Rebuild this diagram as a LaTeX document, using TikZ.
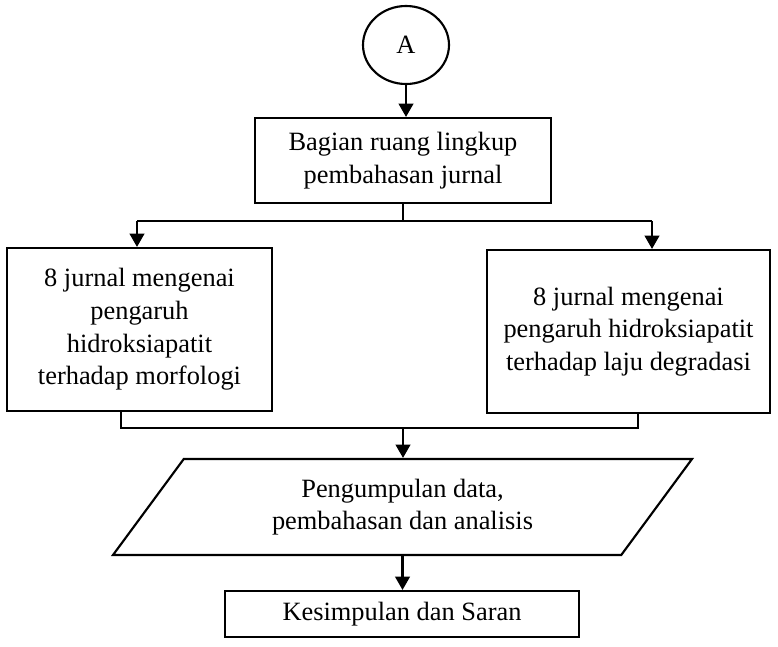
\documentclass[tikz,border=0pt]{standalone}
\usepackage{fontspec}
\setmainfont{Liberation Serif}
\usetikzlibrary{arrows.meta,shapes.geometric}
\begin{document}
\begin{tikzpicture}[x=0.75pt,y=-0.75pt,
  line width=1.6pt,
  every node/.style={font=\fontsize{19.8}{24.5}\selectfont, align=center, inner sep=0pt},
  box/.style={draw, rectangle},
  arr/.style={-{Triangle[width=11pt,length=10pt]}}]
\useasboundingbox (0,0) rectangle (778,646);
\node[draw, ellipse, minimum width=64.5pt, minimum height=58.5pt] (A) at (406,45) {A};
\node[box, minimum width=222pt, minimum height=63.75pt] (b1) at (403,160.5) {Bagian ruang lingkup\\pembahasan jurnal};
\node[box, minimum width=198.75pt, minimum height=122.25pt] (L) at (139.5,329.5) {8 jurnal mengenai\\pengaruh\\hidroksiapatit\\terhadap morfologi};
\node[box, minimum width=212.25pt, minimum height=122.25pt] (R) at (628.5,331.5) {8 jurnal mengenai\\pengaruh hidroksiapatit\\terhadap laju degradasi};
\node[draw, trapezium, trapezium left angle=38.66, trapezium right angle=141.34, trapezium stretches body, minimum width=434.25pt, minimum height=72pt] (P) at (402.5,507) {Pengumpulan data,\\pembahasan dan analisis};
\node[box, minimum width=265.5pt, minimum height=34.5pt] (K) at (402,614) {Kesimpulan dan Saran};
\coordinate (sl) at (137,221);
\coordinate (sr) at (652,221);
\coordinate (jl) at (121,428);
\coordinate (jr) at (638,428);
\coordinate (jm) at (403,428);
\draw[arr] (A.south) -- (A.south|-b1.north);
\draw (b1.south) -- (b1.south|-sl);
\draw (sl) -- (sr);
\draw[arr] (sl) -- (sl|-L.north);
\draw[arr] (sr) -- (sr|-R.north);
\draw (jl|-L.south) -- (jl) -- (jr) -- (jr|-R.south);
\draw[arr] (jm) -- (jm|-P.north);
\draw[arr] (P.south) -- (P.south|-K.north);
\end{tikzpicture}
\end{document}
